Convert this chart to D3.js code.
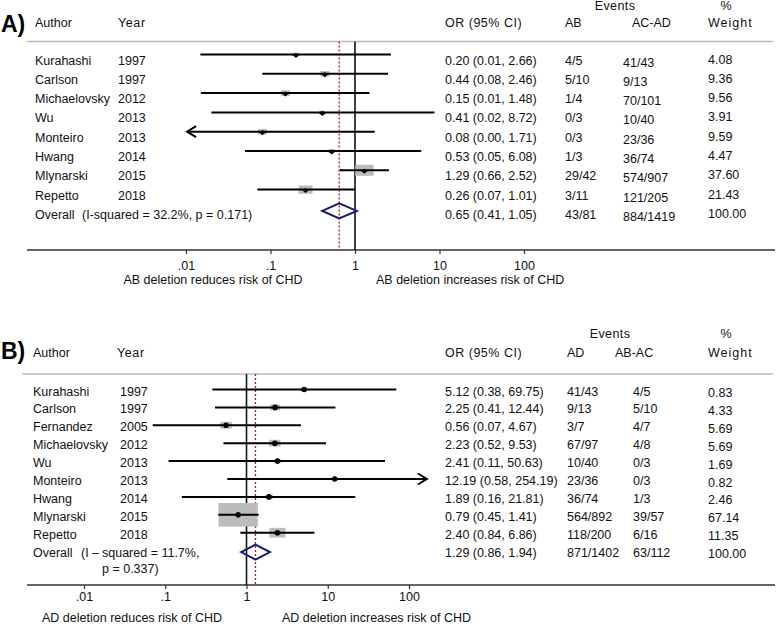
<!DOCTYPE html>
<html>
<head>
<meta charset="utf-8">
<script src="https://cdn.jsdelivr.net/npm/d3@7/dist/d3.min.js"></script>
<style>
  html, body { margin: 0; padding: 0; background: #fff; }
  svg text { font-family: "Liberation Sans", Arial, Helvetica, sans-serif; font-size: 12.5px; fill: #111; }
</style>
</head>
<body>
<svg id="chart" width="778" height="624"></svg>
<script>
// ---------------- Panel A data ----------------
const authorsA = ["Kurahashi","Carlson","Michaelovsky","Wu","Monteiro","Hwang","Mlynarski","Repetto"];
const yearsA   = ["1997","1997","2012","2013","2013","2014","2015","2018"];
const orA      = [0.20, 0.44, 0.15, 0.41, 0.08, 0.53, 1.29, 0.26];
const loA      = [0.0148, 0.08, 0.015, 0.02, 0.001, 0.05, 0.66, 0.07];
const hiA      = [2.66, 2.46, 1.48, 8.72, 1.71, 6.08, 2.52, 1.01];
const orTextA  = ["0.20 (0.01, 2.66)","0.44 (0.08, 2.46)","0.15 (0.01, 1.48)","0.41 (0.02, 8.72)","0.08 (0.00, 1.71)","0.53 (0.05, 6.08)","1.29 (0.66, 2.52)","0.26 (0.07, 1.01)"];
const evABA    = ["4/5","5/10","1/4","0/3","0/3","1/3","29/42","3/11"];
const evACADA  = ["41/43","9/13","70/101","10/40","23/36","36/74","574/907","121/205"];
const weightA  = [4.08, 9.36, 9.56, 3.91, 9.59, 4.47, 37.60, 21.43];
const overallA = {or: 0.65, lo: 0.41, hi: 1.05, text: "0.65 (0.41, 1.05)", e1: "43/81", e2: "884/1419", w: "100.00"};

// ---------------- Panel B data ----------------
const authorsB = ["Kurahashi","Carlson","Fernandez","Michaelovsky","Wu","Monteiro","Hwang","Mlynarski","Repetto"];
const yearsB   = ["1997","1997","2005","2012","2013","2013","2014","2015","2018"];
const orB      = [5.12, 2.25, 0.56, 2.23, 2.41, 12.19, 1.89, 0.79, 2.40];
const loB      = [0.38, 0.41, 0.07, 0.52, 0.11, 0.58, 0.16, 0.45, 0.84];
const hiB      = [69.75, 12.44, 4.67, 9.53, 50.63, 254.19, 21.81, 1.41, 6.86];
const orTextB  = ["5.12 (0.38, 69.75)","2.25 (0.41, 12.44)","0.56 (0.07, 4.67)","2.23 (0.52, 9.53)","2.41 (0.11, 50.63)","12.19 (0.58, 254.19)","1.89 (0.16, 21.81)","0.79 (0.45, 1.41)","2.40 (0.84, 6.86)"];
const evADB    = ["41/43","9/13","3/7","67/97","10/40","23/36","36/74","564/892","118/200"];
const evABACB  = ["4/5","5/10","4/7","4/8","0/3","0/3","1/3","39/57","6/16"];
const weightB  = [0.83, 4.33, 5.69, 5.69, 1.69, 0.82, 2.46, 67.14, 11.35];
const overallB = {or: 1.29, lo: 0.86, hi: 1.94, text: "1.29 (0.86, 1.94)", e1: "871/1402", e2: "63/112", w: "100.00"};

// ---------------- Axis ticks ----------------
const tickValues = [0.01, 0.1, 1, 10, 100];
const tickLabels = [".01", ".1", "1", "10", "100"];

const svg = d3.select("#chart");
svg.append("rect").attr("width", 778).attr("height", 624).attr("fill", "#fff");

function panel(cfg) {
  const g = svg.append("g");
  const n = cfg.authors.length;
  const x = d3.scaleLog().domain([0.01, 100]).range(cfg.xRange);
  const yText = d3.scaleLinear().domain([0, 1]).range([cfg.row0, cfg.row0 + cfg.step]);
  const yMark = i => yText(i) + cfg.markOffset;
  const base = 4.5;

  // panel label
  g.append("text").attr("x", cfg.labelX).attr("y", cfg.labelY).text(cfg.label)
    .style("font-size", "23px").style("font-weight", "bold").style("fill", "#000");

  // header
  const h1 = cfg.headY1, h2 = cfg.headY2;
  g.append("text").attr("x", cfg.colAuthor).attr("y", h2).text("Author");
  g.append("text").attr("x", cfg.colYearHead).attr("y", h2).text("Year").style("letter-spacing", "0.6px");
  g.append("text").attr("x", cfg.colOR).attr("y", h2).text("OR (95% CI)").style("letter-spacing", "0.5px");
  g.append("text").attr("x", cfg.eventsX).attr("y", h1).attr("text-anchor", "middle").text("Events").style("letter-spacing", "0.4px");
  g.append("text").attr("x", cfg.colE1Head).attr("y", h2).text(cfg.e1Head);
  g.append("text").attr("x", cfg.colE2Head).attr("y", h2).text(cfg.e2Head);
  g.append("text").attr("x", 726).attr("y", h1).attr("text-anchor", "middle").text("%");
  g.append("text").attr("x", cfg.colW).attr("y", h2).text("Weight").style("letter-spacing", "1px");

  // header rule
  g.append("line").attr("x1", cfg.ruleX1).attr("x2", 773).attr("y1", cfg.ruleY).attr("y2", cfg.ruleY)
    .attr("stroke", "#bdbdbd").attr("stroke-width", 1.5);

  // axis line + ticks
  g.append("line").attr("x1", 27).attr("x2", 775).attr("y1", cfg.axisY).attr("y2", cfg.axisY)
    .attr("stroke", "#333").attr("stroke-width", 1.6);
  const axis = d3.axisBottom(x).tickValues(tickValues).tickSize(4).tickPadding(6)
    .tickFormat((d, i) => tickLabels[i]);
  const ag = g.append("g").attr("transform", `translate(0,${cfg.axisY})`).call(axis);
  ag.select(".domain").remove();
  ag.selectAll(".tick line").attr("stroke", "#333").attr("stroke-width", 1.2);
  ag.selectAll(".tick text").attr("y", cfg.tickLabelDy).attr("dy", null)
    .style("font-size", "12.5px").style("fill", "#111")
    .style("font-family", "\"Liberation Sans\", Arial, sans-serif");

  // descriptions
  g.append("text").attr("x", cfg.descLeftX).attr("y", cfg.descY).attr("text-anchor", "middle").text(cfg.descLeft);
  g.append("text").attr("x", cfg.descRightX).attr("y", cfg.descY).text(cfg.descRight);

  // reference lines
  g.append("line").attr("x1", x(1)).attr("x2", x(1)).attr("y1", cfg.ruleY).attr("y2", cfg.axisY)
    .attr("stroke", "#111").attr("stroke-width", 1.6);
  g.append("line").attr("x1", x(cfg.overall.or)).attr("x2", x(cfg.overall.or))
    .attr("y1", cfg.ruleY).attr("y2", cfg.axisY)
    .attr("stroke", "#b01c1c").attr("stroke-width", 1.3).attr("stroke-dasharray", "2,2");

  // rows
  for (let i = 0; i < n; i++) {
    const ty = yText(i) + base;
    g.append("text").attr("x", cfg.colAuthor).attr("y", ty).text(cfg.authors[i]);
    g.append("text").attr("x", cfg.colYear).attr("y", ty).text(cfg.years[i]);
    g.append("text").attr("x", cfg.colOR).attr("y", ty).text(cfg.orText[i]);
    g.append("text").attr("x", cfg.colE1).attr("y", ty).text(cfg.ev1[i]);
    g.append("text").attr("x", cfg.colE2).attr("y", ty + cfg.e2Dy).text(cfg.ev2[i]);
    g.append("text").attr("x", cfg.colW).attr("y", ty + cfg.wDy).text(cfg.weight[i].toFixed(2));

    const my = yMark(i);
    const bw = cfg.boxK * Math.sqrt(cfg.weight[i]);
    const bh = bw * 0.6;
    g.append("rect").attr("x", x(cfg.or[i]) - bw / 2).attr("y", my - bh / 2)
      .attr("width", bw).attr("height", bh).attr("fill", "#bcbcbc");

    const lo = Math.max(cfg.lo[i], cfg.clip[0]);
    const hi = Math.min(cfg.hi[i], cfg.clip[1]);
    g.append("line").attr("x1", x(lo)).attr("x2", x(hi)).attr("y1", my).attr("y2", my)
      .attr("stroke", "#000").attr("stroke-width", 2);
    if (cfg.lo[i] < cfg.clip[0]) {
      const t = x(lo);
      g.append("path").attr("d", `M${t + 9},${my - 5.5}L${t},${my}L${t + 9},${my + 5.5}`)
        .attr("fill", "none").attr("stroke", "#000").attr("stroke-width", 2);
    }
    if (cfg.hi[i] > cfg.clip[1]) {
      const t = x(hi);
      g.append("path").attr("d", `M${t - 9},${my - 5.5}L${t},${my}L${t - 9},${my + 5.5}`)
        .attr("fill", "none").attr("stroke", "#000").attr("stroke-width", 2);
    }
    const px = x(cfg.or[i]);
    if (cfg.marker === "diamond") {
      g.append("path").attr("d", `M${px - 3.5},${my + 0.5}L${px},${my - 1.5}L${px + 3.5},${my + 0.5}L${px},${my + 3.5}Z`)
        .attr("fill", "#000");
    } else {
      g.append("circle").attr("cx", px).attr("cy", my).attr("r", 2.8).attr("fill", "#000");
    }
  }

  // overall row
  const oy = yText(n) + base;
  const ov = cfg.overall;
  g.append("text").attr("x", cfg.colAuthor).attr("y", oy).text("Overall");
  cfg.overallExtra.forEach(t => g.append("text").attr("x", t.x).attr("y", oy + t.dy).text(t.s));
  g.append("text").attr("x", cfg.colOR).attr("y", oy).text(ov.text);
  g.append("text").attr("x", cfg.colE1).attr("y", oy).text(ov.e1);
  g.append("text").attr("x", cfg.colE2).attr("y", oy + cfg.e2Dy).text(ov.e2);
  g.append("text").attr("x", cfg.colW).attr("y", oy + cfg.wDy).text(ov.w);
  const dy = yText(n) + cfg.diamondOffset, dh = 7.5;
  g.append("path")
    .attr("d", `M${x(ov.lo)},${dy}L${x(ov.or)},${dy - dh}L${x(ov.hi)},${dy}L${x(ov.or)},${dy + dh}Z`)
    .attr("fill", "none").attr("stroke", "#161a7a").attr("stroke-width", 2);
}

panel({
  label: "A)", labelX: 1, labelY: 32,
  authors: authorsA, years: yearsA, or: orA, lo: loA, hi: hiA, orText: orTextA,
  ev1: evABA, ev2: evACADA, weight: weightA, overall: overallA,
  xRange: [186, 524], clip: [0.0103, 100],
  row0: 60, step: 19.3, markOffset: -5.5, diamondOffset: -3.5,
  headY1: 10, headY2: 27, ruleY: 41.5, ruleX1: 27, axisY: 250, tickLabelDy: 20,
  colAuthor: 35, colYear: 118, colYearHead: 118, colOR: 445, colE1: 565, colE2: 623, colW: 708,
  eventsX: 615, colE1Head: 565, colE2Head: 632, e1Head: "AB", e2Head: "AC-AD",
  e2Dy: 2, wDy: -1,
  descLeft: "AB deletion reduces risk of CHD", descLeftX: 213,
  descRight: "AB deletion increases risk of CHD", descRightX: 376, descY: 284,
  boxK: 3.0, marker: "diamond",
  overallExtra: [{x: 82, dy: 0, s: "(I-squared = 32.2%, p = 0.171)"}]
});

panel({
  label: "B)", labelX: 1, labelY: 359,
  authors: authorsB, years: yearsB, or: orB, lo: loB, hi: hiB, orText: orTextB,
  ev1: evADB, ev2: evABACB, weight: weightB, overall: overallB,
  xRange: [84, 409], clip: [0.005, 166],
  row0: 391, step: 17.9, markOffset: -1.5, diamondOffset: 0,
  headY1: 338, headY2: 357, ruleY: 374, ruleX1: 22, axisY: 585, tickLabelDy: 16,
  colAuthor: 33, colYear: 120, colYearHead: 117, colOR: 445, colE1: 567, colE2: 633, colW: 708,
  eventsX: 610, colE1Head: 567, colE2Head: 615, e1Head: "AD", e2Head: "AB-AC",
  e2Dy: 0, wDy: 1.5,
  descLeft: "AD deletion reduces risk of CHD", descLeftX: 132,
  descRight: "AD deletion increases risk of CHD", descRightX: 282, descY: 622,
  boxK: 4.8, marker: "circle",
  overallExtra: [{x: 81, dy: 0, s: "(I –"}, {x: 102, dy: 0, s: "squared = 11.7%,"}, {x: 102, dy: 16, s: "p = 0.337)"}]
});
</script>
</body>
</html>
